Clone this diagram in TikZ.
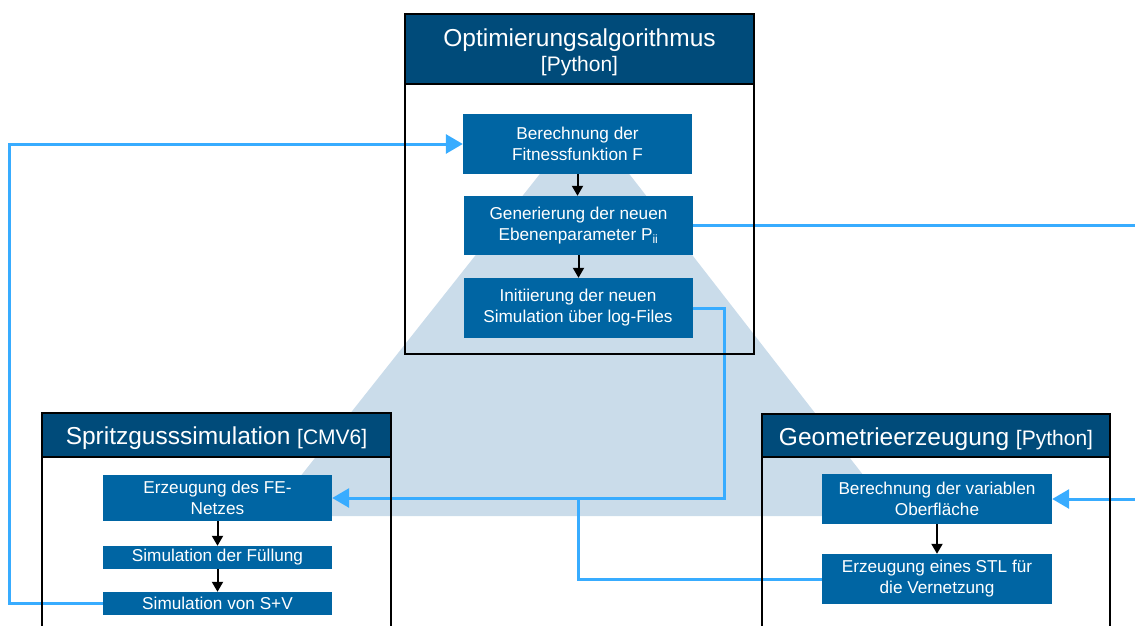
\documentclass[tikz,border=0pt]{standalone}
\usepackage{fontspec}
\setmainfont{Liberation Sans}
\usetikzlibrary{arrows.meta}
\definecolor{hdrc}{RGB}{0,75,122}
\definecolor{bxc}{RGB}{0,101,163}
\definecolor{tric}{RGB}{202,220,234}
\definecolor{conc}{RGB}{56,172,255}
\begin{document}
\begin{tikzpicture}[x=1pt,y=-1pt,
 frame/.style={draw=black,line width=2.8pt,line join=miter},
 hdr/.style={draw=black,fill=hdrc,line width=2.8pt,line join=miter},
 htext/.style={anchor=base,text=white,inner sep=0pt,font=\fontsize{24.5}{26}\selectfont},
 pbox/.style={fill=bxc,text=white,minimum width=229pt,inner sep=0pt,align=center,font=\fontsize{17.2}{21}\selectfont},
 flow/.style={-{Triangle[length=10pt,width=11pt]},line width=2pt,black},
 link/.style={draw=conc,line width=3pt},
 linkarrow/.style={link,-{Triangle[length=17pt,width=19pt]}},
]
\useasboundingbox (0,0) rectangle (1135,626);
% background triangle
\fill[tric] (585,117) -- (895,516) -- (269,516) -- cycle;

% boxes
\node[pbox,minimum height=60pt] (b1) at (577.5,144) {Berechnung der\\Fitnessfunktion F};
\node[pbox,minimum height=59pt] (b2) at (578.5,225.5) {Generierung der neuen\\Ebenenparameter P\textsubscript{ii}};
\node[pbox,minimum height=60pt] (b3) at (578,308) {Initiierung der neuen\\Simulation über log-Files};
\node[pbox,minimum height=46pt] (s1) at (217.5,498) {Erzeugung des FE-\\Netzes};
\node[pbox,minimum height=23pt] (s2) at (217.5,557.5) {Simulation der Füllung};
\node[pbox,minimum height=23pt] (s3) at (217.5,603.5) {Simulation von S+V};
\node[pbox,minimum width=230pt,minimum height=50pt] (g1) at (937,499) {Berechnung der variablen\\Oberfläche};
\node[pbox,minimum width=230pt,minimum height=50pt] (g2) at (937,579) {Erzeugung eines STL für\\die Vernetzung};

% connectors
\coordinate (eR1) at (1140,225.5);
\coordinate (eR2) at (1140,499);
\coordinate (jn) at (578,498);
\draw[linkarrow] (s3.west) -- ++(-93,0) |- (b1.west);
\draw[link] (b2.east) -- (eR1);
\draw[linkarrow] (eR2) -- (g1.east);
\draw[linkarrow] (b3.east) -- ++(32,0) |- (s1.east);
\draw[link] (g2.west) -| (jn);

% frames
\draw[frame] (405,14) rectangle (754,354);
\draw[hdr] (405,14) rectangle (754,84);
\draw[frame] (42,413) rectangle (391,660);
\draw[hdr] (42,413) rectangle (391,457);
\draw[frame] (762,414) rectangle (1110,660);
\draw[hdr] (762,414) rectangle (1110,457);

% header texts
\node[htext] (t1) at (579.5,47) {Optimierungsalgorithmus};
\node[htext,font=\fontsize{21}{24}\selectfont] (t1b) at (579.5,72) {[Python]};
\node[htext] (t2) at (216.5,444) {Spritzgusssimulation {\fontsize{21}{24}\selectfont [CMV6]}};
\node[htext] (t3) at (936,445) {Geometrieerzeugung {\fontsize{21}{24}\selectfont [Python]}};

% internal flows
\draw[flow] (b1.south) -- (b1.south |- b2.north);
\draw[flow] (b2.south) -- (b2.south |- b3.north);
\draw[flow] (s1.south) -- (s1.south |- s2.north);
\draw[flow] (s2.south) -- (s2.south |- s3.north);
\draw[flow] (g1.south) -- (g1.south |- g2.north);
\end{tikzpicture}
\end{document}
